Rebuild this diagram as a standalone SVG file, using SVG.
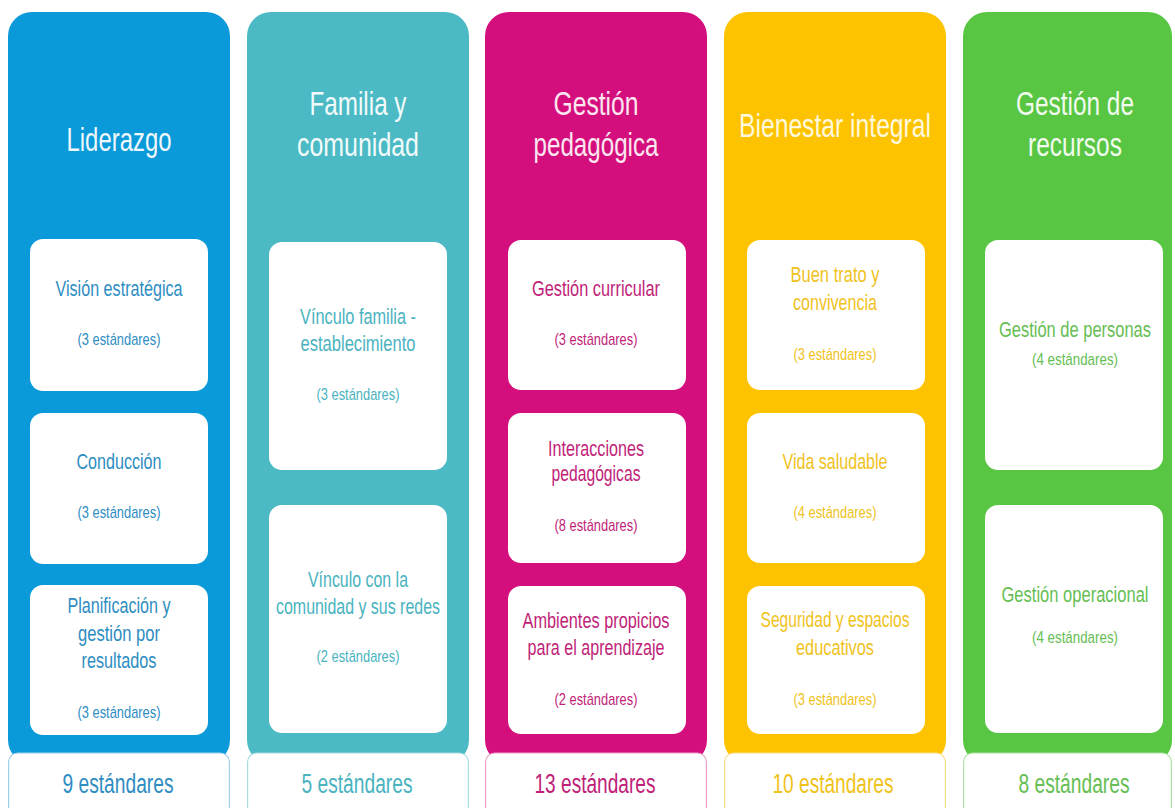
<svg xmlns="http://www.w3.org/2000/svg" width="1175" height="808" viewBox="0 0 1175 808">
<style>
text{font-family:"Liberation Sans",Arial,sans-serif;text-anchor:middle}
.ttl{font-size:33px}
.ct{font-size:21.5px}
.ct2{font-size:18px}
.cs{font-size:17px}
.ft{font-size:27px}
.card{fill:#ffffff}
.foot{fill:#ffffff;stroke-width:1.2}
.c1 .col{fill:#0A9ADA}.c1 .ttl{fill:#EEF7FC}.c1 .ct,.c1 .cs,.c1 .ft{fill:#2E8DC2}.c1 .foot{stroke:#9CCFEA}
.c2 .col{fill:#4BBAC4}.c2 .ttl{fill:#F2FAFB}.c2 .ct,.c2 .cs,.c2 .ft{fill:#4AB3BF}.c2 .foot{stroke:#A6DBE0}
.c3 .col{fill:#D40F7D}.c3 .ttl{fill:#FBE6F1}.c3 .ct,.c3 .cs,.c3 .ft{fill:#C01E78}.c3 .foot{stroke:#EBA0C8}
.c4 .col{fill:#FDC300}.c4 .ttl{fill:#FFF8DC}.c4 .ct,.c4 .cs,.c4 .ft{fill:#EFC21C}.c4 .foot{stroke:#F7DE86}
.c5 .col{fill:#58C643}.c5 .ttl{fill:#F0FAEE}.c5 .ct2,.c5 .cs,.c5 .ft{fill:#66BE54}.c5 .foot{stroke:#AEE0A3}
</style>
<rect width="1175" height="808" fill="#ffffff"/>

<g id="col-liderazgo" class="c1">
  <rect class="col" x="8" y="12" width="222" height="752" rx="24"/>
  <text class="ttl" x="119" y="151" textLength="105" lengthAdjust="spacingAndGlyphs">Liderazgo</text>
  <g id="card-vision">
    <rect class="card" x="30" y="239" width="178" height="152" rx="13"/>
    <text class="ct" x="119" y="296" textLength="127" lengthAdjust="spacingAndGlyphs">Visión estratégica</text>
    <text class="cs" x="119" y="345" textLength="83" lengthAdjust="spacingAndGlyphs">(3 estándares)</text>
  </g>
  <g id="card-conduccion">
    <rect class="card" x="30" y="413" width="178" height="151" rx="13"/>
    <text class="ct" x="119" y="469" textLength="85" lengthAdjust="spacingAndGlyphs">Conducción</text>
    <text class="cs" x="119" y="518" textLength="83" lengthAdjust="spacingAndGlyphs">(3 estándares)</text>
  </g>
  <g id="card-planificacion">
    <rect class="card" x="30" y="585" width="178" height="150" rx="13"/>
    <text class="ct" x="119" y="613" textLength="103" lengthAdjust="spacingAndGlyphs">Planificación y</text>
    <text class="ct" x="119" y="641" textLength="82" lengthAdjust="spacingAndGlyphs">gestión por</text>
    <text class="ct" x="119" y="668" textLength="75" lengthAdjust="spacingAndGlyphs">resultados</text>
    <text class="cs" x="119" y="718" textLength="83" lengthAdjust="spacingAndGlyphs">(3 estándares)</text>
  </g>
  <g id="foot-liderazgo">
    <rect class="foot" x="8.6" y="753" width="220.8" height="70" rx="9"/>
    <text class="ft" x="118" y="793" textLength="111" lengthAdjust="spacingAndGlyphs">9 estándares</text>
  </g>
</g>

<g id="col-familia" class="c2">
  <rect class="col" x="247" y="12" width="222" height="752" rx="24"/>
  <text class="ttl" x="358" y="115" textLength="97" lengthAdjust="spacingAndGlyphs">Familia y</text>
  <text class="ttl" x="358" y="156" textLength="122" lengthAdjust="spacingAndGlyphs">comunidad</text>
  <g id="card-vinculo-familia">
    <rect class="card" x="269" y="242" width="178" height="228" rx="13"/>
    <text class="ct" x="358" y="324" textLength="116" lengthAdjust="spacingAndGlyphs">Vínculo familia -</text>
    <text class="ct" x="358" y="351" textLength="115" lengthAdjust="spacingAndGlyphs">establecimiento</text>
    <text class="cs" x="358" y="400" textLength="83" lengthAdjust="spacingAndGlyphs">(3 estándares)</text>
  </g>
  <g id="card-vinculo-comunidad">
    <rect class="card" x="269" y="505" width="178" height="228" rx="13"/>
    <text class="ct" x="358" y="587" textLength="100" lengthAdjust="spacingAndGlyphs">Vínculo con la</text>
    <text class="ct" x="358" y="614" textLength="164" lengthAdjust="spacingAndGlyphs">comunidad y sus redes</text>
    <text class="cs" x="358" y="662" textLength="83" lengthAdjust="spacingAndGlyphs">(2 estándares)</text>
  </g>
  <g id="foot-familia">
    <rect class="foot" x="247.6" y="753" width="220.8" height="70" rx="9"/>
    <text class="ft" x="357" y="793" textLength="111" lengthAdjust="spacingAndGlyphs">5 estándares</text>
  </g>
</g>

<g id="col-pedagogica" class="c3">
  <rect class="col" x="485" y="12" width="222" height="752" rx="24"/>
  <text class="ttl" x="596" y="115" textLength="85" lengthAdjust="spacingAndGlyphs">Gestión</text>
  <text class="ttl" x="596" y="156" textLength="125" lengthAdjust="spacingAndGlyphs">pedagógica</text>
  <g id="card-curricular">
    <rect class="card" x="508" y="240" width="178" height="150" rx="13"/>
    <text class="ct" x="596" y="296" textLength="128" lengthAdjust="spacingAndGlyphs">Gestión curricular</text>
    <text class="cs" x="596" y="345" textLength="83" lengthAdjust="spacingAndGlyphs">(3 estándares)</text>
  </g>
  <g id="card-interacciones">
    <rect class="card" x="508" y="413" width="178" height="150" rx="13"/>
    <text class="ct" x="596" y="456" textLength="96" lengthAdjust="spacingAndGlyphs">Interacciones</text>
    <text class="ct" x="596" y="481" textLength="89" lengthAdjust="spacingAndGlyphs">pedagógicas</text>
    <text class="cs" x="596" y="531" textLength="83" lengthAdjust="spacingAndGlyphs">(8 estándares)</text>
  </g>
  <g id="card-ambientes">
    <rect class="card" x="508" y="586" width="178" height="148" rx="13"/>
    <text class="ct" x="596" y="628" textLength="147" lengthAdjust="spacingAndGlyphs">Ambientes propicios</text>
    <text class="ct" x="596" y="655" textLength="137" lengthAdjust="spacingAndGlyphs">para el aprendizaje</text>
    <text class="cs" x="596" y="705" textLength="83" lengthAdjust="spacingAndGlyphs">(2 estándares)</text>
  </g>
  <g id="foot-pedagogica">
    <rect class="foot" x="485.6" y="753" width="220.8" height="70" rx="9"/>
    <text class="ft" x="595" y="793" textLength="121" lengthAdjust="spacingAndGlyphs">13 estándares</text>
  </g>
</g>

<g id="col-bienestar" class="c4">
  <rect class="col" x="724" y="12" width="222" height="752" rx="24"/>
  <text class="ttl" x="835" y="137" textLength="192" lengthAdjust="spacingAndGlyphs">Bienestar integral</text>
  <g id="card-buen-trato">
    <rect class="card" x="747" y="240" width="178" height="150" rx="13"/>
    <text class="ct" x="835" y="282" textLength="89" lengthAdjust="spacingAndGlyphs">Buen trato y</text>
    <text class="ct" x="835" y="310" textLength="84" lengthAdjust="spacingAndGlyphs">convivencia</text>
    <text class="cs" x="835" y="360" textLength="83" lengthAdjust="spacingAndGlyphs">(3 estándares)</text>
  </g>
  <g id="card-vida-saludable">
    <rect class="card" x="747" y="413" width="178" height="150" rx="13"/>
    <text class="ct" x="835" y="469" textLength="105" lengthAdjust="spacingAndGlyphs">Vida saludable</text>
    <text class="cs" x="835" y="518" textLength="83" lengthAdjust="spacingAndGlyphs">(4 estándares)</text>
  </g>
  <g id="card-seguridad">
    <rect class="card" x="747" y="586" width="178" height="148" rx="13"/>
    <text class="ct" x="835" y="627" textLength="149" lengthAdjust="spacingAndGlyphs">Seguridad y espacios</text>
    <text class="ct" x="835" y="655" textLength="78" lengthAdjust="spacingAndGlyphs">educativos</text>
    <text class="cs" x="835" y="705" textLength="83" lengthAdjust="spacingAndGlyphs">(3 estándares)</text>
  </g>
  <g id="foot-bienestar">
    <rect class="foot" x="724.6" y="753" width="220.8" height="70" rx="9"/>
    <text class="ft" x="833" y="793" textLength="121" lengthAdjust="spacingAndGlyphs">10 estándares</text>
  </g>
</g>

<g id="col-recursos" class="c5">
  <rect class="col" x="963" y="12" width="209" height="752" rx="24"/>
  <text class="ttl" x="1075" y="115" textLength="118" lengthAdjust="spacingAndGlyphs">Gestión de</text>
  <text class="ttl" x="1075" y="156" textLength="94" lengthAdjust="spacingAndGlyphs">recursos</text>
  <g id="card-personas">
    <rect class="card" x="985" y="240" width="178" height="230" rx="13"/>
    <text class="ct2" transform="translate(1075 337) scale(1 1.2)" x="0" y="0" textLength="152" lengthAdjust="spacingAndGlyphs">Gestión de personas</text>
    <text class="cs" x="1075" y="365" textLength="86" lengthAdjust="spacingAndGlyphs">(4 estándares)</text>
  </g>
  <g id="card-operacional">
    <rect class="card" x="985" y="505" width="178" height="228" rx="13"/>
    <text class="ct2" transform="translate(1075 602) scale(1 1.2)" x="0" y="0" textLength="147" lengthAdjust="spacingAndGlyphs">Gestión operacional</text>
    <text class="cs" x="1075" y="643" textLength="86" lengthAdjust="spacingAndGlyphs">(4 estándares)</text>
  </g>
  <g id="foot-recursos">
    <rect class="foot" x="963.6" y="753" width="207.8" height="70" rx="9"/>
    <text class="ft" x="1074" y="793" textLength="111" lengthAdjust="spacingAndGlyphs">8 estándares</text>
  </g>
</g>

<g id="connectors"/>
</svg>
